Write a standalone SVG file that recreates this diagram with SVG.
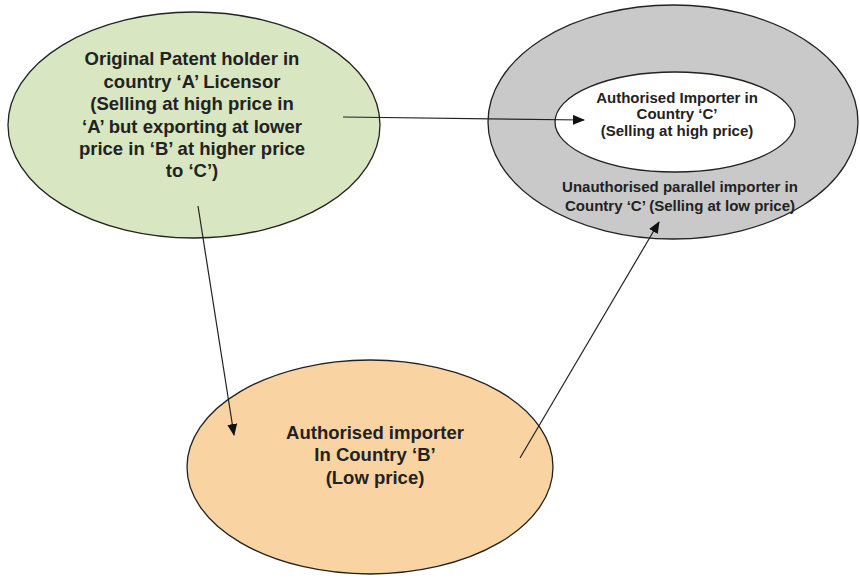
<svg xmlns="http://www.w3.org/2000/svg" width="860" height="578" viewBox="0 0 860 578">
<style>
.t{font-family:"Liberation Sans",Arial,sans-serif;font-weight:bold;fill:#222;text-anchor:middle}
.e{stroke:#222;stroke-width:1.3}
.c{stroke:#222;stroke-width:1.2;fill:none;marker-end:url(#ah)}
</style>
<defs>
<marker id="ah" viewBox="0 0 12 10" refX="11" refY="5" markerWidth="12" markerHeight="10" markerUnits="userSpaceOnUse" orient="auto">
<path d="M0,0 L12,5 L0,10 Z" fill="#111"/>
</marker>
</defs>
<rect width="860" height="578" fill="#fff"/>
<g id="nodeA">
<ellipse class="e" cx="194" cy="125" rx="186" ry="113" fill="#d8e6c1"/>
<text class="t" font-size="18.5" x="192" y="65">Original Patent holder in</text>
<text class="t" font-size="18.5" x="192" y="88">country ‘A’ Licensor</text>
<text class="t" font-size="18.5" x="192" y="110">(Selling at high price in</text>
<text class="t" font-size="18.5" x="192" y="133">‘A’ but exporting at lower</text>
<text class="t" font-size="18.5" x="192" y="155">price in ‘B’ at higher price</text>
<text class="t" font-size="18.5" x="192" y="177">to ‘C’)</text>
</g>
<g id="nodeC">
<ellipse class="e" cx="673" cy="122" rx="185" ry="117" fill="#c9c9c9"/>
<text class="t" font-size="15" x="680" y="192">Unauthorised parallel importer in</text>
<text class="t" font-size="15" x="680" y="211">Country ‘C’ (Selling at low price)</text>
</g>
<g id="nodeCauth">
<ellipse class="e" cx="675" cy="122" rx="120" ry="50" fill="#ffffff"/>
<text class="t" font-size="15" x="677" y="103">Authorised Importer in</text>
<text class="t" font-size="15" x="677" y="119">Country ‘C’</text>
<text class="t" font-size="15" x="677" y="136">(Selling at high price)</text>
</g>
<g id="nodeB">
<ellipse class="e" cx="370" cy="467" rx="183" ry="107" fill="#f9d4a2"/>
<text class="t" font-size="18.5" x="375" y="439">Authorised importer</text>
<text class="t" font-size="18.5" x="375" y="461">In Country ‘B’</text>
<text class="t" font-size="18.5" x="375" y="484">(Low price)</text>
</g>
<g id="connectors">
<line class="c" x1="343" y1="117" x2="584" y2="120"/>
<line class="c" x1="198" y1="206" x2="234" y2="435"/>
<line class="c" x1="520" y1="458" x2="659" y2="222"/>
</g>
</svg>
